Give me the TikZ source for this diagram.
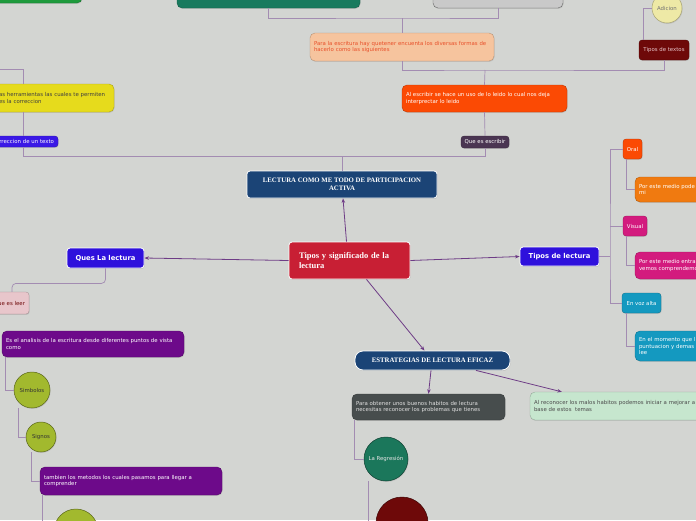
\documentclass[tikz,border=0pt]{standalone}
\usepackage{fontspec}
\setmainfont{Liberation Serif}
\setsansfont{DejaVu Sans}
\usetikzlibrary{arrows.meta,shadows}

\definecolor{bgc}{HTML}{D3D5D2}
\definecolor{linkc}{HTML}{A38CB2}
\definecolor{arrc}{HTML}{6E3C86}
\definecolor{greenc}{HTML}{1E9A3C}
\definecolor{tealc}{HTML}{187A5E}
\definecolor{grayc}{HTML}{C9C9C9}
\definecolor{peachc}{HTML}{F6C49E}
\definecolor{peachtxt}{HTML}{E8502A}
\definecolor{maroonc}{HTML}{6E0909}
\definecolor{paleyel}{HTML}{EEE9A6}
\definecolor{redorc}{HTML}{FB4A04}
\definecolor{plumc}{HTML}{4A3552}
\definecolor{yellowc}{HTML}{E6DB1C}
\definecolor{violetc}{HTML}{3A18E6}
\definecolor{navyc}{HTML}{1B4476}
\definecolor{crimsonc}{HTML}{C81F34}
\definecolor{indigoc}{HTML}{2E10DC}
\definecolor{pinkc}{HTML}{E8C6CB}
\definecolor{purplec}{HTML}{6D0A8A}
\definecolor{olivec}{HTML}{A2B92E}
\definecolor{orangec}{HTML}{F07A10}
\definecolor{magentac}{HTML}{D31B7E}
\definecolor{cyanc}{HTML}{1499C0}
\definecolor{slatec}{HTML}{474D4D}
\definecolor{mintc}{HTML}{C6E6CE}
\definecolor{pinec}{HTML}{1B775B}

\begin{document}
\begin{tikzpicture}[x=1pt,y=-1pt,
  every node/.style={font=\sffamily\fontsize{5.4}{6.4}\selectfont},
  link/.style={draw=linkc,line width=0.7pt},
  arr/.style={draw=arrc,line width=0.8pt,-{Stealth[length=4.5pt,width=3.5pt]}},
  wave/.style={rectangle,rounded corners=5pt,align=left,inner xsep=4pt,inner ysep=0pt,
    fill=#1,draw=#1!75!black,line width=0.4pt,
    drop shadow={opacity=0.25,shadow xshift=0.6pt,shadow yshift=-0.9pt}},
  tagbox/.style={rectangle,rounded corners=3pt,inner sep=0pt,align=center,
    fill=#1,draw=#1!70!black,line width=0.3pt,
    drop shadow={opacity=0.25,shadow xshift=0.6pt,shadow yshift=-0.9pt}},
  bubble/.style={circle,inner sep=0pt,align=center,fill=#1,draw=#1!55!black,line width=0.5pt,
    drop shadow={opacity=0.25,shadow xshift=0.6pt,shadow yshift=-0.9pt}},
  topic/.style={rectangle,rounded corners=3pt,inner sep=0pt,fill=#1,draw=white,line width=0.8pt,
    text=white,drop shadow={opacity=0.3,shadow xshift=0.6pt,shadow yshift=-0.9pt}},
  headfont/.style={font=\rmfamily\bfseries\fontsize{6.8}{8}\selectfont},
  boldsans/.style={font=\sffamily\bfseries\fontsize{6.8}{8}\selectfont}]
  \useasboundingbox (0,0) rectangle (696,520);
  \clip (0,0) rectangle (696,520);
  \fill[bgc] (0,0) rectangle (696,520);

  % top row
  \node[wave=greenc,minimum width=142,minimum height=33] (greenTop) at (11,-13.5) {};
  \node[wave=tealc,minimum width=183,minimum height=38] (tealTop) at (268.5,-11) {};
  \node[wave=grayc,draw=black!60,minimum width=130,minimum height=38] (grayTop) at (498,-11) {};
  \node[wave=peachc,text=peachtxt,text width=176,minimum height=28] (escritura) at (402,47)
    {Para la escritura hay quetener encuenta los diversas formas de\\hacerlo como las siguientes};
  \node[tagbox=maroonc,text=pinkc,minimum width=50,minimum height=20] (tiposTextos) at (664,50) {Tipos de textos};
  \node[bubble=paleyel,draw=paleyel!70!black,text=black!55,minimum size=30] (adicion) at (667,8) {Adicion};
  \node[wave=redorc,text=white,text width=157,minimum height=27] (usoLeido) at (484.5,98.5)
    {Al escribir se hace un uso de lo leido lo cual nos deja\\interprectar lo leido};
  \node[tagbox=plumc,text=white,minimum width=48,minimum height=12] (queEscribir) at (485,142) {Que es escribir};
  \node[wave=yellowc,text=black!75,text width=111,minimum height=28] (herramientas) at (54.5,98)
    {as herramientas las cuales te permiten\\es la correccion};
  \node[tagbox=violetc,text=white,text width=70,align=right,inner xsep=4pt,minimum height=11] (correccion) at (19,141.5)
    {rreccion de un texto};

  % centre
  \node[topic=navyc,headfont,align=center,minimum width=190,minimum height=27] (metodo) at (342,184.5)
    {LECTURA COMO ME TODO DE PARTICIPACION\\ACTIVA};
  \node[topic=crimsonc,font=\rmfamily\bfseries\fontsize{8.5}{10}\selectfont,align=left,
    text width=101,inner xsep=10pt,minimum height=37] (centro) at (349.5,260.5)
    {Tipos y significado de la\\lectura};
  \node[topic=indigoc,boldsans,minimum width=77,minimum height=20] (quesLectura) at (105.5,258) {Ques La lectura};
  \node[topic=indigoc,boldsans,minimum width=79,minimum height=19] (tiposLectura) at (559.5,256.5) {Tipos de lectura};
  \node[topic=navyc,headfont,rounded corners=8pt,minimum width=155,minimum height=19] (estrategias) at (432.5,360.5)
    {ESTRATEGIAS DE LECTURA EFICAZ};

  % left branch
  \node[tagbox=pinkc,text=maroonc,text width=41,align=right,inner xsep=4pt,minimum height=22] (queLeer) at (4.5,303) {ue es leer};
  \node[wave=purplec,text=white,text width=174,minimum height=26] (analisis) at (93,344)
    {Es el analisis de la escritura desde diferentes puntos de vista\\como};
  \node[bubble=olivec,text=black!80,minimum size=36] (simbolos) at (32,390) {Simbolos};
  \node[bubble=olivec,text=black!80,minimum size=30] (signos) at (41,437) {Signos};
  \node[wave=purplec,text=white,text width=174,minimum height=28] (metodos) at (131,481)
    {tambien los metodos los cuales pasamos para llegar a\\comprender};
  \node[bubble=olivec,minimum size=44] (olivaBaja) at (76,531) {};

  % right branch
  \node[tagbox=redorc,text=white,minimum width=19,minimum height=20] (oral) at (632.5,149) {Oral};
  \node[wave=orangec,text=white,text width=92,minimum height=25] (medioOral) at (685,189.5)
    {Por este medio pode\\mi};
  \node[tagbox=magentac,text=white,minimum width=24,minimum height=20] (visual) at (635,226) {Visual};
  \node[wave=magentac,text=white,text width=92,minimum height=27] (medioVisual) at (685,265.5)
    {Por este medio entra\\vemos comprendemo};
  \node[tagbox=cyanc,text=white,minimum width=39,minimum height=20] (vozAlta) at (641.5,303) {En voz alta};
  \node[wave=cyanc,text=white,text width=92,minimum height=30] (momento) at (685,346)
    {En el momento que l\\puntuacion y demas\\lee};

  % bottom branch
  \node[wave=slatec,text=black!12,text width=145,minimum height=26] (habitos) at (428.5,407)
    {Para obtener unos buenos habitos de lectura\\necesitas reconocer los problemas que tienes};
  \node[wave=mintc,text=black!70,text width=202,minimum height=28] (malos) at (635,406)
    {Al reconocer los malos habitos podemos iniciar a mejorar a\\base de estos\ \ temas};
  \node[bubble=pinec,text=black!10,minimum size=44] (regresion) at (386,459) {La Regresión};
  \node[bubble=maroonc,minimum size=52] (rojoBajo) at (402,523) {};

  % connectors
  \coordinate (j1) at (402,18);
  \coordinate (j2) at (485,70);
  \coordinate (j3) at (342,156);
  \coordinate (j4) at (23,156);
  \coordinate (j5) at (610,256.5);
  \coordinate (offLeft) at (-10,69);
  \draw[link] (tealTop.south) |- (j1) -| (grayTop.south);
  \draw[link] (j1) -- (escritura.north);
  \draw[link] (escritura.south) |- (j2) -| (tiposTextos.south);
  \draw[link] (j2) -- (usoLeido.north);
  \draw[link] ([xshift=4pt]tiposTextos.north west) |- (adicion.west);
  \draw[link] (usoLeido.south) -- (queEscribir.north);
  \draw[link] (queEscribir.south) |- (j3) -- (metodo.north);
  \draw[link] (j3) -- (j4) -- (correccion.south -| j4);
  \draw[link] (correccion.north -| j4) -- (herramientas.south -| j4);
  \draw[link] (herramientas.north -| j4) |- (offLeft);
  \draw[link,rounded corners=4pt] (quesLectura.south) -- ++(0,15) -| ([xshift=7.5pt]queLeer.north);
  \draw[link] ([xshift=4pt]analisis.south west) |- (simbolos.west);
  \draw[link] ([xshift=-14pt]simbolos.south) |- (signos.west);
  \draw[link] ([xshift=-10pt]signos.south) |- (metodos.west);
  \draw[link] ([xshift=3pt]metodos.south west) |- (olivaBaja.west);
  \draw[link] (tiposLectura.east) -- (j5);
  \draw[link] (oral.west) -| (j5) |- (vozAlta.west);
  \draw[link] (visual.west) -- (visual.west -| j5);
  \draw[link] ([xshift=3pt]oral.south west) |- (medioOral.west);
  \draw[link] ([xshift=3pt]visual.south west) |- (medioVisual.west);
  \draw[link] ([xshift=4pt]vozAlta.south west) |- (momento.west);
  \draw[link] ([xshift=3pt]habitos.south west) |- (regresion.west);
  \draw[link] ([xshift=-18pt]regresion.south) |- (rojoBajo.west);

  \draw[arr] ([xshift=-3pt]centro.north) -- ([xshift=1pt]metodo.south);
  \draw[arr] (centro.west) -- (quesLectura.east);
  \draw[arr] (centro.east) -- (tiposLectura.west);
  \draw[arr] ([xshift=17pt]centro.south) -- ([xshift=-8pt]estrategias.north);
  \draw[arr] ([xshift=-1.5pt]estrategias.south) -- (habitos.north);
  \draw[arr] ([xshift=43.5pt]estrategias.south) -- ([xshift=32pt]malos.north west);
\end{tikzpicture}
\end{document}
